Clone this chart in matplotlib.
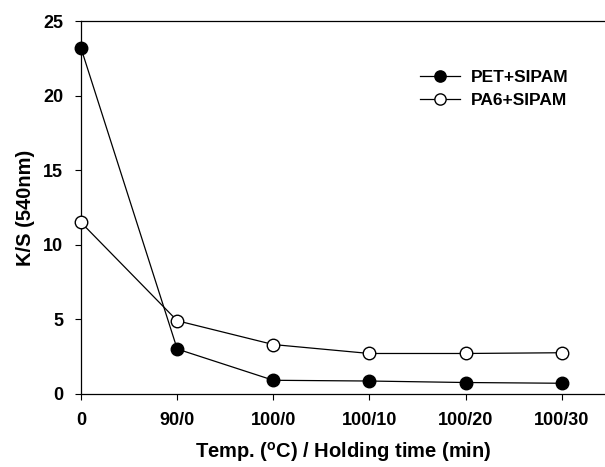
import matplotlib.pyplot as plt

# categories on the x axis
labels = ["0", "90/0", "100/0", "100/10", "100/20", "100/30"]

# K/S values
pet_sipam = [23.2, 3.0, 0.9, 0.85, 0.75, 0.7]
pa6_sipam = [11.5, 4.9, 3.3, 2.7, 2.7, 2.75]

plt.rcParams['font.family'] = ['Liberation Sans', 'DejaVu Sans']
plt.rcParams['font.weight'] = 'bold'

fig = plt.figure(figsize=(6.05, 4.67), dpi=100)
ax = fig.add_axes([0.134, 0.157, 0.866, 0.797])

x = list(range(len(labels)))
ax.plot(x, pet_sipam, "-o", color="black", lw=0.9, ms=9,
        mfc="black", mec="black", label="PET+SIPAM", clip_on=False, zorder=3)
ax.plot(x, pa6_sipam, "-o", color="black", lw=0.9, ms=9,
        mfc="white", mec="black", mew=1.0, label="PA6+SIPAM", clip_on=False, zorder=3)

ax.set_xlim(0, 5.45)
ax.set_ylim(0, 25)
ax.set_xticks(x)
ax.set_xticklabels(labels)
ax.set_yticks([0, 5, 10, 15, 20, 25])
ax.tick_params(direction="out", length=4, width=0.8, labelsize=13)
ax.tick_params(axis="x", pad=9)
ax.tick_params(axis="y", pad=9)
for t in ax.get_xticklabels() + ax.get_yticklabels():
    t.set_fontweight("bold")

ax.spines["right"].set_visible(False)
for s in ["left", "bottom", "top"]:
    ax.spines[s].set_linewidth(0.9)

ax.set_ylabel("K/S (540nm)", fontsize=14.5, fontweight="bold", labelpad=6)
ax.set_xlabel("Temp. ($\\mathregular{^o}$C) / Holding time (min)", fontsize=14.5,
              fontweight="bold", labelpad=8)

ax.legend(loc="upper right", bbox_to_anchor=(0.96, 0.913), frameon=False,
          fontsize=12.5, handlelength=2.3, labelspacing=0.45, handletextpad=0.6,
          markerscale=0.9)

fig.savefig("out.png", dpi=100)
